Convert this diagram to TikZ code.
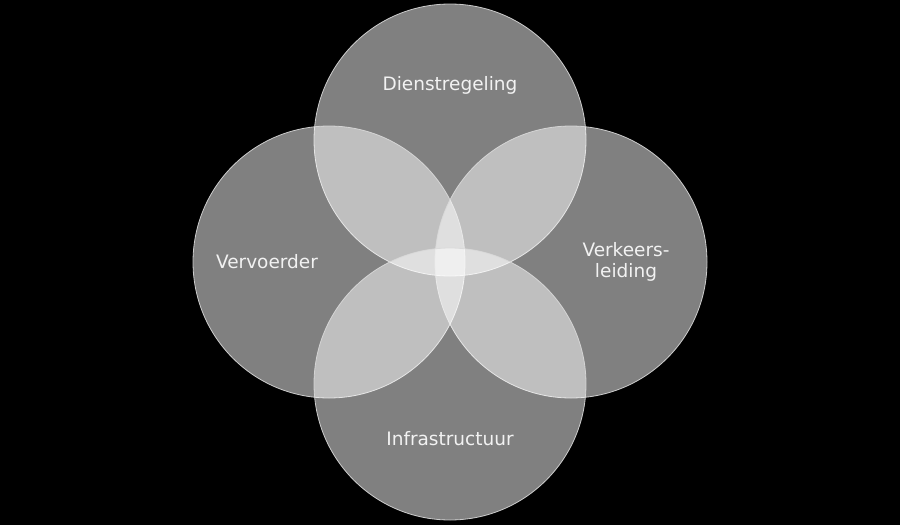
\documentclass[tikz,border=0pt]{standalone}
\usepackage{fontspec}
\setmainfont{DejaVu Sans}
\begin{document}
\begin{tikzpicture}[x=1pt,y=-1pt,
  venn/.style={circle, minimum size=272pt, inner sep=0pt, fill=white, fill opacity=0.5, draw=white!85!black, draw opacity=0.9, line width=0.8pt},
  lbl/.style={text=white!95!black, font=\fontsize{18.5}{21.5}\selectfont, align=center}]
\fill[black] (0,0) rectangle (900,525);
\useasboundingbox (0,0) rectangle (900,525);
\node[venn] (top) at (450,140) {};
\node[venn] (left) at (329,262) {};
\node[venn] (right) at (571,262) {};
\node[venn] (bottom) at (450,384) {};
\node[lbl] (t1) at (450,85) {Dienstregeling};
\node[lbl] (t2) at (267,262) {Vervoerder};
\node[lbl] (t3) at (626,262) {Verkeers-\\leiding};
\node[lbl] (t4) at (450,439) {Infrastructuur};
\end{tikzpicture}
\end{document}
